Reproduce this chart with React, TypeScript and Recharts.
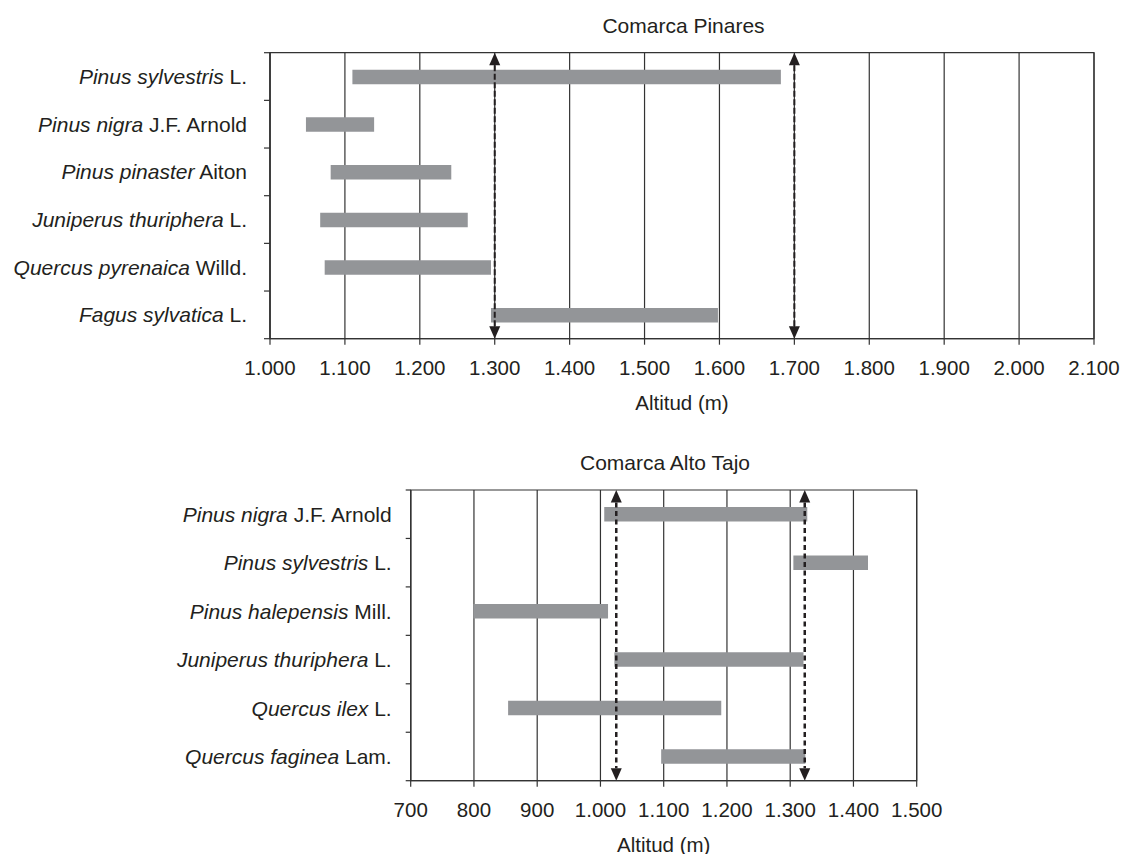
import React from 'react';
import { BarChart, Bar, XAxis, YAxis, CartesianGrid, ReferenceLine, ReferenceArea } from 'recharts';

// ---------- Data: Comarca Pinares ----------
const pinaresSpecies = ['Pinus sylvestris', 'Pinus nigra', 'Pinus pinaster', 'Juniperus thuriphera', 'Quercus pyrenaica', 'Fagus sylvatica'];
const pinaresAuthors = [' L.', ' J.F. Arnold', ' Aiton', ' L.', ' Willd.', ' L.'];
const pinaresStart = [1110, 1048, 1081, 1067, 1073, 1295];
const pinaresEnd = [1682, 1139, 1242, 1264, 1295, 1598];
const pinaresLimits = [1300, 1700];
const pinaresTicks = [1000, 1100, 1200, 1300, 1400, 1500, 1600, 1700, 1800, 1900, 2000, 2100];

// ---------- Data: Comarca Alto Tajo ----------
const altoSpecies = ['Pinus nigra', 'Pinus sylvestris', 'Pinus halepensis', 'Juniperus thuriphera', 'Quercus ilex', 'Quercus faginea'];
const altoAuthors = [' J.F. Arnold', ' L.', ' Mill.', ' L.', ' L.', ' Lam.'];
const altoStart = [1006, 1305, 799, 1022, 854, 1096];
const altoEnd = [1327, 1423, 1012, 1321, 1191, 1324];
const altoLimits = [1025, 1323];
const altoTicks = [700, 800, 900, 1000, 1100, 1200, 1300, 1400, 1500];

const FONT = '"Liberation Sans", Arial, Helvetica, sans-serif';
const TEXT = '#231f20';
const GRID = '#333333';
const BAR = '#939598';
const FS_TICK = 20.5;
const FS_LABEL = 21;
const FS_TITLE = 21;

const fmt = (v: number) =>
  v >= 1000 ? `${Math.floor(v / 1000)}.${String(v % 1000).padStart(3, '0')}` : String(v);

const build = (species: string[], authors: string[], start: number[], end: number[]) =>
  species.map((s, i) => ({ name: s, author: authors[i], range: [start[i], end[i]] }));

type PanelProps = {
  top: number;
  height: number;
  plotLeft: number;
  plotRight: number;
  plotTop: number;
  plotBottom: number;
  labelGap: number;
  tickLen: number;
  data: { name: string; author: string; range: number[] }[];
  ticks: number[];
  limits: number[];
  dash: string;
  dashWidth: number;
  title: string;
  titleX: number;
};

const W = 1124;
const YW = 260;

function Panel(p: PanelProps) {
  const n = p.data.length;
  const band = (p.plotBottom - p.plotTop) / n;
  const xAxisHeight = p.height - p.plotBottom;
  const authorOf: Record<string, string> = {};
  p.data.forEach((d) => (authorOf[d.name] = d.author));

  const YTick = (props: any) => {
    const { y, payload, index } = props;
    const ax = p.plotLeft;
    return (
      <g>
        <text
          x={ax - p.labelGap}
          y={y}
          dy="0.36em"
          textAnchor="end"
          fontSize={FS_LABEL}
          fontFamily={FONT}
          fill={TEXT}
          style={{ whiteSpace: 'pre' }}
        >
          <tspan fontStyle="italic">{payload.value}</tspan>
          <tspan>{authorOf[payload.value]}</tspan>
        </text>
        <line x1={ax - p.tickLen} x2={ax} y1={y - band / 2} y2={y - band / 2} stroke={GRID} strokeWidth={1.2} />
        {index === n - 1 && (
          <line x1={ax - p.tickLen} x2={ax} y1={y + band / 2} y2={y + band / 2} stroke={GRID} strokeWidth={1.2} />
        )}
      </g>
    );
  };

  const XTick = (props: any) => {
    const { x, payload } = props;
    return (
      <text x={x} y={p.plotBottom + 36.4} textAnchor="middle" fontSize={FS_TICK} fontFamily={FONT} fill={TEXT}>
        {fmt(payload.value)}
      </text>
    );
  };

  const Arrow = (props: any) => {
    const { x1, y1, y2 } = props;
    const t = Math.min(y1, y2);
    const b = Math.max(y1, y2);
    const ah = 12.5;
    const aw = 5.5;
    return (
      <g>
        <line x1={x1} x2={x1} y1={t + ah} y2={b - ah} stroke={TEXT} strokeWidth={p.dashWidth} strokeDasharray={p.dash} />
        <path d={`M${x1},${t} L${x1 - aw},${t + ah} L${x1 + aw},${t + ah} Z`} fill={TEXT} />
        <path d={`M${x1},${b} L${x1 - aw},${b - ah} L${x1 + aw},${b - ah} Z`} fill={TEXT} />
      </g>
    );
  };

  const dom: [number, number] = [p.ticks[0], p.ticks[p.ticks.length - 1]];
  const midX = (p.plotLeft + p.plotRight) / 2;

  return (
    <div style={{ position: 'absolute', left: 0, top: p.top, width: W, height: p.height }}>
      <BarChart
        width={W}
        height={p.height}
        layout="vertical"
        data={p.data}
        margin={{ top: p.plotTop, right: W - p.plotRight, bottom: 0, left: p.plotLeft - YW }}
      >
        <CartesianGrid horizontal={false} vertical stroke={GRID} strokeWidth={1.2} />
        <XAxis
          type="number"
          domain={dom}
          ticks={p.ticks}
          interval={0}
          height={xAxisHeight}
          axisLine={{ stroke: GRID, strokeWidth: 1.2 }}
          tickLine={{ stroke: GRID, strokeWidth: 1.2 }}
          tickSize={6}
          tick={<XTick />}
        />
        <YAxis
          type="category"
          dataKey="name"
          width={YW}
          axisLine={{ stroke: GRID, strokeWidth: 1.2 }}
          tickLine={false}
          tick={<YTick />}
          interval={0}
        />
        <ReferenceArea x1={dom[0]} x2={dom[1]} fill="none" stroke={GRID} strokeWidth={1.2} fillOpacity={0} />
        <Bar dataKey="range" fill={BAR} barSize={14.5} isAnimationActive={false} />
        {p.limits.map((v) => (
          <ReferenceLine key={v} x={v} shape={<Arrow />} />
        ))}
      </BarChart>
      <svg width={W} height={p.height} style={{ position: 'absolute', left: 0, top: 0, pointerEvents: 'none' }}>
        <text x={p.titleX} y={p.plotTop - 20} textAnchor="middle" fontSize={FS_TITLE} fontFamily={FONT} fill={TEXT}>
          {p.title}
        </text>
        <text x={midX} y={p.plotBottom + 70.8} textAnchor="middle" fontSize={FS_TICK} fontFamily={FONT} fill={TEXT}>
          Altitud (m)
        </text>
      </svg>
    </div>
  );
}

export default function App() {
  const pinares = build(pinaresSpecies, pinaresAuthors, pinaresStart, pinaresEnd);
  const alto = build(altoSpecies, altoAuthors, altoStart, altoEnd);
  return (
    <div style={{ position: 'absolute', left: 0, top: 0, width: W, height: 854, background: '#fff', fontFamily: FONT }}>
      <Panel
        top={0}
        height={430}
        plotLeft={270}
        plotRight={1094}
        plotTop={52.7}
        plotBottom={338.7}
        labelGap={23}
        tickLen={6}
        data={pinares}
        ticks={pinaresTicks}
        limits={pinaresLimits}
        dash="6 2.5"
        dashWidth={2}
        title="Comarca Pinares"
        titleX={683.5}
      />
      <Panel
        top={440}
        height={414}
        plotLeft={410.7}
        plotRight={916.7}
        plotTop={50}
        plotBottom={340.7}
        labelGap={19}
        tickLen={5}
        data={alto}
        ticks={altoTicks}
        limits={altoLimits}
        dash="5 3.5"
        dashWidth={2.5}
        title="Comarca Alto Tajo"
        titleX={665}
      />
    </div>
  );
}
